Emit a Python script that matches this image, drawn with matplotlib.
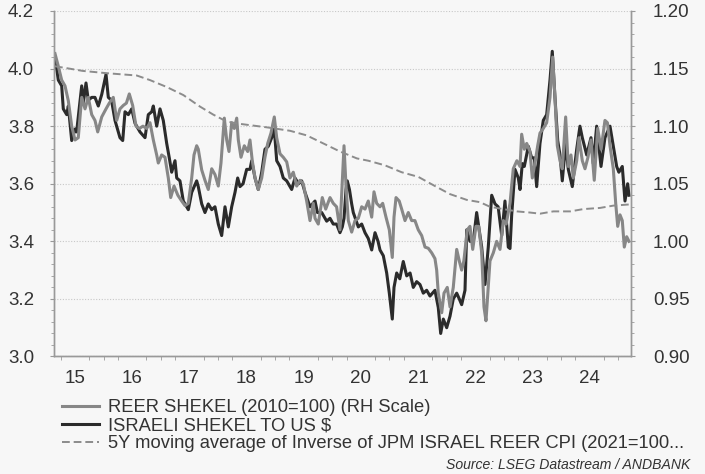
import numpy as np
import matplotlib
matplotlib.use("Agg")
import matplotlib.pyplot as plt
from matplotlib.ticker import MultipleLocator, FixedLocator, NullFormatter, FuncFormatter

plt.rcParams['font.family'] = ['Liberation Sans', 'DejaVu Sans']

# ISRAELI SHEKEL TO US $ (left scale), decimal years
usd_t = [2015.152, 2015.210, 2015.269, 2015.297, 2015.357, 2015.385, 2015.444, 2015.502, 2015.530,
         2015.619, 2015.647, 2015.694, 2015.734, 2015.794, 2015.851, 2015.909, 2015.969, 2016.044,
         2016.084, 2016.140, 2016.201, 2016.288, 2016.336, 2016.376, 2016.434, 2016.493, 2016.551,
         2016.638, 2016.726, 2016.783, 2016.843, 2016.871, 2016.930, 2016.988, 2017.045, 2017.105,
         2017.150, 2017.192, 2017.250, 2017.280, 2017.337, 2017.395, 2017.483, 2017.542, 2017.629,
         2017.657, 2017.717, 2017.774, 2017.832, 2017.892, 2017.949, 2018.007, 2018.066, 2018.124,
         2018.182, 2018.241, 2018.299, 2018.346, 2018.386, 2018.440, 2018.503, 2018.561, 2018.591,
         2018.649, 2018.706, 2018.766, 2018.823, 2018.881, 2018.941, 2018.986, 2019.028, 2019.086,
         2019.143, 2019.203, 2019.290, 2019.348, 2019.410, 2019.465, 2019.523, 2019.610, 2019.698,
         2019.740, 2019.815, 2019.902, 2019.960, 2020.017, 2020.075, 2020.134, 2020.175, 2020.205,
         2020.240, 2020.262, 2020.300, 2020.339, 2020.367, 2020.455, 2020.514, 2020.572, 2020.629,
         2020.689, 2020.747, 2020.800, 2020.834, 2020.892, 2020.951, 2020.997, 2021.049, 2021.079,
         2021.126, 2021.180, 2021.241, 2021.301, 2021.360, 2021.416, 2021.475, 2021.533, 2021.591,
         2021.650, 2021.708, 2021.795, 2021.853, 2021.895, 2021.941, 2022.000, 2022.058, 2022.115,
         2022.175, 2022.220, 2022.262, 2022.320, 2022.350, 2022.407, 2022.465, 2022.524, 2022.612,
         2022.670, 2022.727, 2022.787, 2022.845, 2022.900, 2022.962, 2023.019, 2023.077, 2023.107,
         2023.136, 2023.194, 2023.252, 2023.282, 2023.322, 2023.357, 2023.427, 2023.486, 2023.531,
         2023.573, 2023.631, 2023.689, 2023.748, 2023.806, 2023.846, 2023.893, 2023.941, 2023.981,
         2024.021, 2024.080, 2024.126, 2024.196, 2024.273, 2024.330, 2024.371, 2024.448, 2024.523,
         2024.563, 2024.622, 2024.698, 2024.767, 2024.855, 2024.913, 2024.972, 2025.010, 2025.070,
         2025.117, 2025.164, 2025.187]
usd_v = [4.04, 3.96, 3.94, 3.86, 3.84, 3.87, 3.75, 3.79, 3.78,
         3.94, 3.88, 3.95, 3.89, 3.90, 3.90, 3.87, 3.91, 3.98,
         3.90, 3.89, 3.82, 3.76, 3.75, 3.85, 3.84, 3.86, 3.81,
         3.78, 3.76, 3.84, 3.85, 3.87, 3.80, 3.86, 3.82, 3.74,
         3.69, 3.64, 3.68, 3.62, 3.61, 3.54, 3.51, 3.57, 3.61,
         3.59, 3.53, 3.50, 3.53, 3.51, 3.52, 3.46, 3.42, 3.52,
         3.45, 3.52, 3.57, 3.62, 3.59, 3.60, 3.65, 3.65, 3.68,
         3.62, 3.58, 3.64, 3.72, 3.73, 3.76, 3.79, 3.68, 3.66,
         3.62, 3.61, 3.58, 3.62, 3.60, 3.61, 3.57, 3.52, 3.54,
         3.50, 3.50, 3.47, 3.48, 3.46, 3.46, 3.43, 3.45, 3.48,
         3.58, 3.61, 3.58, 3.53, 3.50, 3.45, 3.46, 3.43, 3.41,
         3.37, 3.43, 3.40, 3.37, 3.35, 3.29, 3.22, 3.13, 3.24,
         3.29, 3.27, 3.33, 3.28, 3.29, 3.24, 3.26, 3.25, 3.22,
         3.23, 3.21, 3.23, 3.17, 3.08, 3.13, 3.10, 3.14, 3.20,
         3.22, 3.20, 3.18, 3.23, 3.44, 3.40, 3.40, 3.50, 3.38,
         3.25, 3.38, 3.56, 3.53, 3.52, 3.42, 3.54, 3.38, 3.375,
         3.49, 3.65, 3.62, 3.58, 3.67, 3.66, 3.73, 3.69, 3.69,
         3.59, 3.74, 3.82, 3.84, 3.96, 4.06, 3.90, 3.75, 3.70,
         3.61, 3.74, 3.65, 3.59, 3.72, 3.80, 3.76, 3.70, 3.76,
         3.67, 3.80, 3.66, 3.76, 3.80, 3.73, 3.66, 3.64, 3.66,
         3.54, 3.60, 3.56]

# REER SHEKEL (2010=100), right scale
reer_t = [2015.152, 2015.210, 2015.269, 2015.327, 2015.385, 2015.444, 2015.502, 2015.559, 2015.619,
          2015.677, 2015.734, 2015.794, 2015.851, 2015.899, 2015.969, 2016.044, 2016.101, 2016.171,
          2016.231, 2016.288, 2016.346, 2016.400, 2016.451, 2016.510, 2016.568, 2016.626, 2016.690,
          2016.755, 2016.813, 2016.871, 2016.930, 2016.958, 2017.017, 2017.075, 2017.133, 2017.175,
          2017.233, 2017.300, 2017.367, 2017.425, 2017.483, 2017.542, 2017.582, 2017.629, 2017.657,
          2017.717, 2017.774, 2017.832, 2017.892, 2017.949, 2018.007, 2018.054, 2018.112, 2018.154,
          2018.194, 2018.241, 2018.287, 2018.329, 2018.357, 2018.404, 2018.462, 2018.521, 2018.561,
          2018.601, 2018.649, 2018.706, 2018.766, 2018.823, 2018.871, 2018.928, 2018.986, 2019.028,
          2019.086, 2019.143, 2019.203, 2019.260, 2019.318, 2019.378, 2019.435, 2019.493, 2019.552,
          2019.610, 2019.668, 2019.698, 2019.755, 2019.825, 2019.885, 2019.960, 2020.017, 2020.075,
          2020.134, 2020.175, 2020.205, 2020.240, 2020.280, 2020.339, 2020.397, 2020.455, 2020.514,
          2020.572, 2020.629, 2020.689, 2020.729, 2020.776, 2020.834, 2020.881, 2020.939, 2020.997,
          2021.049, 2021.079, 2021.114, 2021.170, 2021.213, 2021.271, 2021.329, 2021.388, 2021.445,
          2021.503, 2021.563, 2021.621, 2021.678, 2021.738, 2021.795, 2021.825, 2021.853, 2021.913,
          2021.953, 2022.010, 2022.058, 2022.115, 2022.175, 2022.220, 2022.262, 2022.300, 2022.360,
          2022.407, 2022.455, 2022.512, 2022.560, 2022.612, 2022.652, 2022.687, 2022.727, 2022.757,
          2022.815, 2022.874, 2022.932, 2022.990, 2023.040, 2023.107, 2023.164, 2023.227, 2023.282,
          2023.311, 2023.357, 2023.399, 2023.456, 2023.497, 2023.550, 2023.591, 2023.631, 2023.689,
          2023.748, 2023.806, 2023.853, 2023.893, 2023.934, 2023.981, 2024.021, 2024.080, 2024.126,
          2024.173, 2024.213, 2024.273, 2024.313, 2024.371, 2024.418, 2024.470, 2024.523, 2024.580,
          2024.640, 2024.700, 2024.767, 2024.810, 2024.855, 2024.913, 2024.955, 2024.990, 2025.030,
          2025.070, 2025.105, 2025.147, 2025.187]
reer_v = [1.163, 1.152, 1.140, 1.135, 1.122, 1.100, 1.088, 1.090, 1.125,
          1.115, 1.125, 1.110, 1.105, 1.095, 1.108, 1.115, 1.120, 1.125,
          1.105, 1.115, 1.118, 1.120, 1.128, 1.118, 1.100, 1.098, 1.100,
          1.098, 1.103, 1.088, 1.075, 1.068, 1.075, 1.073, 1.055, 1.038,
          1.048, 1.040, 1.035, 1.031, 1.033, 1.055, 1.075, 1.083, 1.080,
          1.062, 1.053, 1.045, 1.063, 1.058, 1.048, 1.068, 1.107, 1.088,
          1.078, 1.103, 1.098, 1.107, 1.088, 1.073, 1.083, 1.078, 1.088,
          1.070, 1.055, 1.045, 1.055, 1.073, 1.085, 1.094, 1.108, 1.090,
          1.076, 1.073, 1.069, 1.055, 1.060, 1.048, 1.053, 1.050, 1.035,
          1.018, 1.033, 1.020, 1.015, 1.038, 1.028, 1.038, 1.033, 1.030,
          1.010, 1.053, 1.083, 1.048, 1.018, 1.008, 1.018, 1.020, 1.030,
          1.028, 1.035, 1.021, 1.043, 1.033, 1.030, 1.033, 1.021, 1.010,
          0.986, 1.021, 1.038, 1.035, 1.028, 1.018, 1.025, 1.018, 1.018,
          1.010, 1.005, 0.995, 0.994, 0.990, 0.985, 0.975, 0.955, 0.938,
          0.955, 0.960, 0.943, 0.960, 0.993, 0.983, 0.975, 0.983, 1.010,
          1.013, 0.993, 1.013, 1.013, 0.990, 0.943, 0.931, 0.960, 0.983,
          0.990, 1.000, 0.993, 1.018, 1.015, 1.033, 1.063, 1.070, 1.065,
          1.093, 1.080, 1.085, 1.078, 1.055, 1.070, 1.083, 1.094, 1.098,
          1.103, 1.125, 1.160, 1.125, 1.083, 1.070, 1.063, 1.108, 1.065,
          1.075, 1.055, 1.070, 1.090, 1.070, 1.063, 1.073, 1.088, 1.053,
          1.098, 1.080, 1.105, 1.103, 1.083, 1.063, 1.033, 1.013, 1.023,
          1.018, 0.995, 1.004, 1.000]

# 5Y moving average of inverse of JPM Israel REER CPI, right scale
ma_t = [2015.152, 2015.400, 2015.633, 2016.055, 2016.580, 2016.813, 2017.105, 2017.396, 2017.687,
        2017.920, 2018.154, 2018.386, 2018.852, 2019.260, 2019.552, 2019.843, 2020.134, 2020.430,
        2020.629, 2020.920, 2021.213, 2021.503, 2021.795, 2022.058, 2022.350, 2022.582, 2022.757,
        2022.990, 2023.227, 2023.456, 2023.631, 2023.864, 2024.160, 2024.390, 2024.680, 2024.913,
        2025.187]
ma_v = [1.152, 1.150, 1.148, 1.146, 1.144, 1.140, 1.134, 1.127, 1.117,
        1.110, 1.104, 1.102, 1.099, 1.096, 1.092, 1.085, 1.078, 1.072,
        1.070, 1.066, 1.060, 1.056, 1.048, 1.041, 1.036, 1.034, 1.030,
        1.028, 1.026, 1.025, 1.024, 1.026, 1.026, 1.028, 1.029, 1.031,
        1.032]

years = list(range(2015, 2025))
year_labels = [str(y)[2:] for y in years]

bg = '#f7f7f7'
axc = '#999999'
txt = '#333333'

fig = plt.figure(figsize=(7.05, 4.74), dpi=100, facecolor=bg)
ax = fig.add_axes([0.0759, 0.2479, 0.8187, 0.7289], facecolor=bg)
ax2 = ax.twinx()

ax.plot(usd_t, usd_v, color='#2b2b2b', lw=2.2, solid_joinstyle='round',
        label='ISRAELI SHEKEL TO US $')
l_reer, = ax2.plot(reer_t, reer_v, color='#878787', lw=2.2, solid_joinstyle='round',
                   label='REER SHEKEL (2010=100) (RH Scale)')
l_ma, = ax2.plot(ma_t, ma_v, color='#8c8c8c', lw=1.4, dashes=(4, 2),
                 label='5Y moving average of Inverse of JPM ISRAEL REER CPI (2021=100...')

ax.set_xlim(2015.126, 2025.217)
ax.set_ylim(3.0, 4.2)
ax2.set_ylim(0.90, 1.20)

ax.yaxis.set_major_locator(MultipleLocator(0.2))
ax.yaxis.set_minor_locator(MultipleLocator(0.04))
ax.yaxis.set_major_formatter(FuncFormatter(lambda v, p: f'{v:.1f}'))
ax2.yaxis.set_major_locator(MultipleLocator(0.05))
ax2.yaxis.set_minor_locator(MultipleLocator(0.01))
ax2.yaxis.set_major_formatter(FuncFormatter(lambda v, p: f'{v:.2f}'))

# x: quarter ticks, labels centred on each year
ax.xaxis.set_major_locator(FixedLocator([y + 0.5 for y in years]))
ax.set_xticklabels(year_labels)
ax.xaxis.set_minor_locator(FixedLocator([y + q / 4 for y in range(2015, 2026) for q in range(4)]))
ax.xaxis.set_minor_formatter(NullFormatter())
ax.tick_params(axis='x', which='major', length=0, pad=10, labelsize=13.5, labelcolor=txt)
ax.tick_params(axis='x', which='minor', length=3, color=axc, direction='out')

ax.tick_params(axis='y', which='major', length=3, color=axc, pad=11, labelsize=13.5, labelcolor=txt)
ax.tick_params(axis='y', which='minor', length=2, color=axc)
ax2.tick_params(axis='y', which='major', length=3, color=axc, pad=13, labelsize=13.5, labelcolor=txt)
ax2.tick_params(axis='y', which='minor', length=2, color=axc)

ax.grid(axis='y', which='major', color='#c8c8c8', lw=0.8, ls=(0, (1, 1.5)))

for a in (ax, ax2):
    a.spines['top'].set_visible(False)
    for s in ('left', 'right', 'bottom'):
        a.spines[s].set_color(axc)
        a.spines[s].set_linewidth(1.0)

handles = [l_reer, ax.lines[0], l_ma]
fig.legend(handles, [h.get_label() for h in handles], loc='upper left',
           bbox_to_anchor=(0.088, 0.158), frameon=False, fontsize=13.2,
           handlelength=2.0, handletextpad=0.5, labelspacing=0.05,
           borderaxespad=0, borderpad=0, labelcolor=txt)

fig.text(0.979, 0.019, 'Source: LSEG Datastream / ANDBANK', ha='right', va='center',
         fontsize=10.1, style='italic', color=txt)

fig.savefig('out.png', dpi=100, facecolor=bg)
